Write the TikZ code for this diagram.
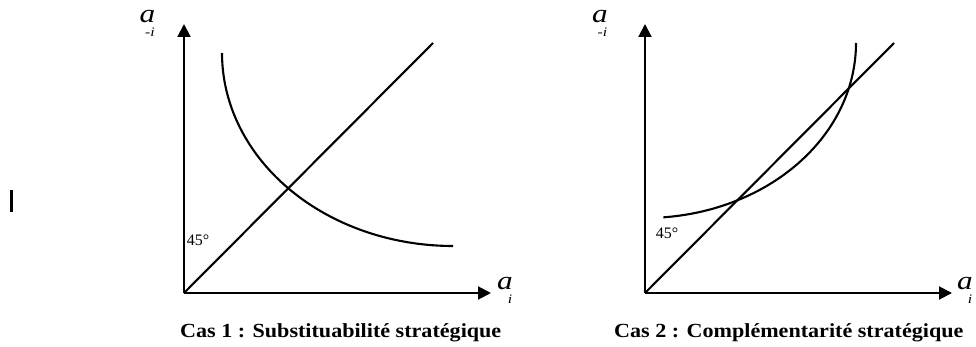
\documentclass[tikz,border=0pt]{standalone}
\usepackage{fontspec}
\setmainfont{Liberation Serif}
\usetikzlibrary{arrows.meta}
\newcommand{\lowsub}[1]{\makebox[0pt][r]{\raisebox{-14pt}{\fontsize{13}{15}\selectfont #1\kern0.5pt}}}
\tikzset{
  axis/.style={line width=2pt, -{Triangle[length=13pt,width=13pt]}},
  curve/.style={line width=2.1pt},
  diag/.style={line width=2.1pt},
  lbl/.style={inner sep=0pt, anchor=base, font=\fontsize{26}{28}\selectfont\itshape, xscale=1.2},
  deg/.style={inner sep=0pt, anchor=base, font=\fontsize{16}{18}\selectfont},
  captext/.style={inner sep=0pt, anchor=base west, font=\fontsize{20}{22}\selectfont\bfseries, xscale=1.105}
}
\begin{document}
\begin{tikzpicture}[x=1pt,y=-1pt]
\useasboundingbox (0,0) rectangle (976,347);
% stray bar
\fill (9.5,190) rectangle (12.5,212);
% ---------- Case 1 ----------
\coordinate (O1) at (184,293);
\coordinate (Y1) at (184,24);
\coordinate (X1) at (491,293);
\coordinate (D1) at (433,43);
\draw[axis] (O1) -- (Y1);
\draw[axis] (O1) -- (X1);
\draw[diag] (O1) -- (D1);
\draw[curve] plot[domain=180:90, samples=80] ({453+231*cos(\x)}, {53+193*sin(\x)});
\node[lbl] (a1) at (147.5,23) {a\lowsub{-i}};
\node[lbl] (b1) at (505,289) {a\lowsub{i}};
\node[deg] (g1) at (198,246) {45°};
\node[captext] (c1) at (180,337) {Cas 1 : Substituabilité stratégique};
% ---------- Case 2 ----------
\coordinate (O2) at (645,293);
\coordinate (Y2) at (645,24);
\coordinate (X2) at (952,293);
\coordinate (D2) at (894,43);
\draw[axis] (O2) -- (Y2);
\draw[axis] (O2) -- (X2);
\draw[diag] (O2) -- (D2);
\draw[curve] plot[domain=-85:0, samples=80] ({645+211*cos(\x)}, {43-175*sin(\x)});
\node[lbl] (a2) at (600,23) {a\lowsub{-i}};
\node[lbl] (b2) at (965,289) {a\lowsub{i}};
\node[deg] (g2) at (667,238) {45°};
\node[captext] (c2) at (614,337) {Cas 2 : Complémentarité stratégique};
\end{tikzpicture}
\end{document}
